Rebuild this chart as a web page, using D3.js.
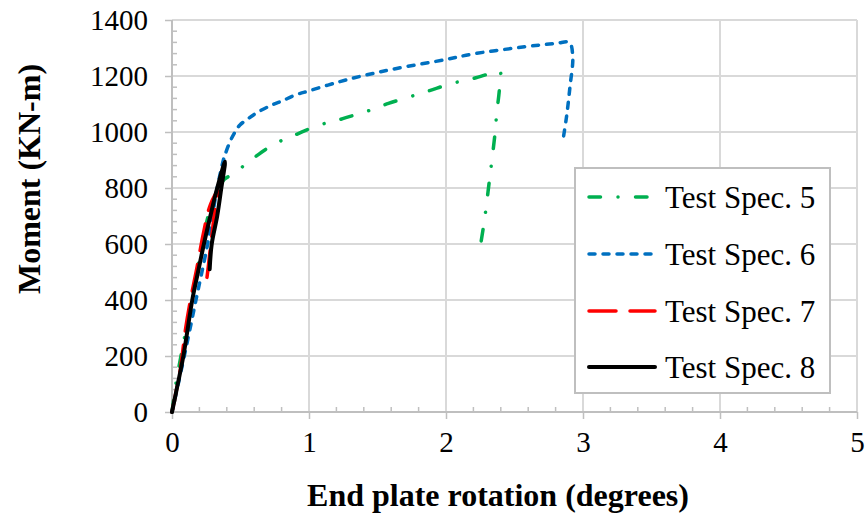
<!DOCTYPE html>
<html><head><meta charset="utf-8">
<script src="https://cdn.jsdelivr.net/npm/d3@7"></script>
<style>body{margin:0;background:#fff}svg{display:block}</style>
</head><body>
<svg id="c" width="866" height="518"></svg>
<script>
// ---- data ----
const seriesNames = ["Test Spec. 5","Test Spec. 6","Test Spec. 7","Test Spec. 8"];
const xTicks = [0,1,2,3,4,5];
const yTicks = [0,200,400,600,800,1000,1200,1400];

const spec5Rot = [0,0.025,0.05,0.085,0.145,0.2,0.24,0.27,0.33,0.38,0.43,0.52,0.594,0.684,0.788,0.861,0.971,1.104,1.166,1.275,1.397,1.47,1.58,1.737,1.88,2.04,2.2,2.345,2.394,2.39,2.37,2.358,2.32,2.28,2.248];
const spec5Mom = [0,90,160,250,400,550,650,710,785,830,846,878,906,938,967,981,1005,1029,1036,1052,1070,1082,1102,1126,1148,1173,1191,1212,1216,1154,1066,996,840,683,585];

const spec6Rot = [0,0.09,0.175,0.26,0.33,0.375,0.387,0.423,0.46,0.496,0.557,0.63,0.728,0.8,0.9,1.007,1.226,1.42,1.64,2.0,2.2,2.49,2.69,2.81,2.9,2.925,2.905,2.88,2.85];
const spec6Mom = [0,200,400,600,800,900,918,965,1000,1025,1048,1072,1096,1110,1132,1148,1180,1204,1227,1259,1279,1299,1311,1317,1320,1270,1162,1055,960];

const spec7Rot = [0,0.025,0.06,0.1,0.135,0.18,0.23,0.28,0.335,0.315,0.29,0.265,0.253];
const spec7Mom = [0,60,150,300,400,510,640,740,790,730,626,520,471];

const spec8Rot = [0,0.04,0.083,0.148,0.19,0.233,0.28,0.33,0.387,0.36,0.33,0.29,0.275];
const spec8Mom = [0,95,200,400,500,600,700,800,894,800,700,600,510];

const colors = ["#00b050","#0070c0","#ff0000","#000000"];

// ---- layout ----
const svg = d3.select("#c");
const L = 172, R = 857, T = 20, B = 412;
const x = d3.scaleLinear().domain([0,5]).range([L,R]);
const y = d3.scaleLinear().domain([0,1400]).range([B,T]);
const serif = "'Liberation Serif','Times New Roman',serif";

// gridlines
const grid = svg.append("g");
grid.selectAll("line.gx").data(xTicks.filter(d=>d>0)).join("line")
  .attr("x1",d=>x(d)).attr("x2",d=>x(d)).attr("y1",T).attr("y2",B)
  .attr("stroke","#d9d9d9").attr("stroke-width",2);
grid.selectAll("line.gy").data(yTicks.filter(d=>d>0)).join("line")
  .attr("x1",L).attr("x2",R).attr("y1",d=>y(d)).attr("y2",d=>y(d))
  .attr("stroke","#d9d9d9").attr("stroke-width",2);

// minor ticks
const axisCol = "#bfbfbf";
const xMinor = d3.range(0,5.001,0.2).filter(v=>Math.abs(v-Math.round(v))>1e-6);
svg.append("g").selectAll("line").data(xMinor).join("line")
  .attr("x1",d=>x(d)).attr("x2",d=>x(d)).attr("y1",B).attr("y2",B-5)
  .attr("stroke",axisCol).attr("stroke-width",1.5);
const yMinor = d3.range(0,1400.1,40).filter(v=>v%200!==0);
svg.append("g").selectAll("line").data(yMinor).join("line")
  .attr("x1",L).attr("x2",L+5).attr("y1",d=>y(d)).attr("y2",d=>y(d))
  .attr("stroke",axisCol).attr("stroke-width",1.5);

// axes
const xAxis = d3.axisBottom(x).tickValues(xTicks).tickSize(7).tickPadding(12).tickFormat(d3.format("d"));
const gx = svg.append("g").attr("transform",`translate(0,${B})`).call(xAxis);
const yAxis = d3.axisLeft(y).tickValues(yTicks).tickSize(7).tickPadding(17).tickFormat(d3.format("d"));
const gy = svg.append("g").attr("transform",`translate(${L},0)`).call(yAxis);
[gx,gy].forEach(g=>{
  g.select(".domain").attr("stroke",axisCol).attr("stroke-width",2);
  g.selectAll(".tick line").attr("stroke",axisCol).attr("stroke-width",1.5);
  g.selectAll(".tick text").attr("font-family",serif).attr("font-size",29).attr("fill","#000");
});
gx.select(".domain").attr("d",`M${L},0H${R}`);
gy.select(".domain").attr("d",`M0,${B}V${T}`);

// series
const series = [
  {rot:spec5Rot, mom:spec5Mom, dash:"11.5,17.5,0.01,17.5", w:3.5, cap:"round"},
  {rot:spec6Rot, mom:spec6Mom, dash:"6,8", w:3.5, cap:"round"},
  {rot:spec7Rot, mom:spec7Mom, dash:"27,14", w:3.5, cap:"round"},
  {rot:spec8Rot, mom:spec8Mom, dash:null, w:4, cap:"round"}
];
const line = d3.line().x(d=>x(d[0])).y(d=>y(d[1])).curve(d3.curveCatmullRom.alpha(0.5));
series.forEach((s,i)=>{
  const pts = s.rot.map((r,j)=>[r,s.mom[j]]);
  svg.append("path").attr("d",line(pts)).attr("fill","none")
    .attr("stroke",colors[i]).attr("stroke-width",s.w)
    .attr("stroke-linecap",s.cap).attr("stroke-linejoin","round")
    .attr("stroke-dasharray",s.dash);
});

// legend
const lg = svg.append("g");
lg.append("rect").attr("x",575).attr("y",168).attr("width",255).attr("height",225)
  .attr("fill","#fff").attr("stroke",axisCol).attr("stroke-width",2);
const ly = [197,254,311,367];
series.forEach((s,i)=>{
  lg.append("line").attr("x1",589).attr("x2",655).attr("y1",ly[i]).attr("y2",ly[i])
    .attr("stroke",colors[i]).attr("stroke-width",s.w)
    .attr("stroke-linecap",s.cap).attr("stroke-dasharray",s.dash);
  lg.append("text").attr("x",665).attr("y",ly[i]+11).text(seriesNames[i])
    .attr("font-family",serif).attr("font-size",31).attr("fill","#000");
});

// axis titles
svg.append("text").attr("x",498).attr("y",506).attr("text-anchor","middle")
  .attr("font-family",serif).attr("font-size",32).attr("font-weight","bold")
  .text("End plate rotation (degrees)");
svg.append("text").attr("transform","translate(40,179) rotate(-90)").attr("text-anchor","middle")
  .attr("font-family",serif).attr("font-size",32).attr("font-weight","bold")
  .text("Moment (KN-m)");
</script>
</body></html>
